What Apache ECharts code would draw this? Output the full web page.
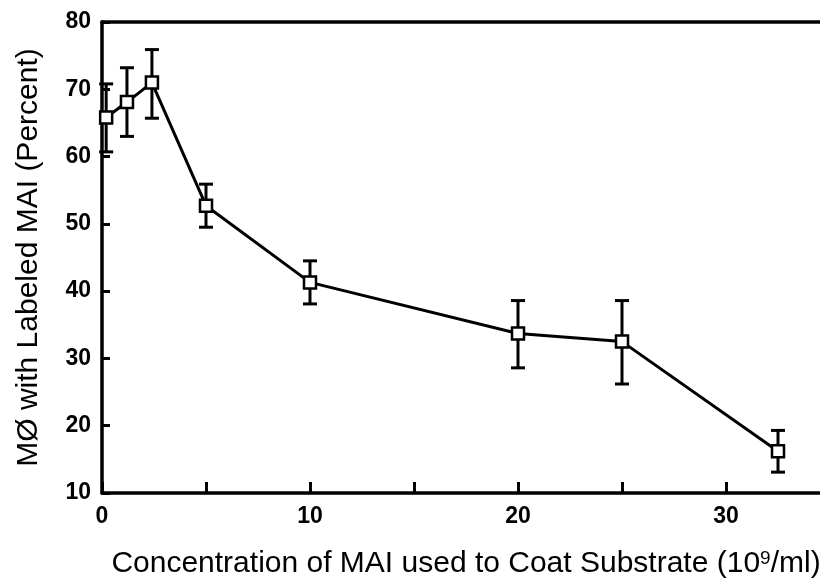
<!DOCTYPE html>
<html>
<head>
<meta charset="utf-8">
<script src="https://cdn.jsdelivr.net/npm/echarts@6/dist/echarts.min.js"></script>
<style>html,body{margin:0;padding:0;background:#fff}#c{width:820px;height:580px}</style>
</head>
<body>
<div id="c"></div>
<script>
// Data
const concentration = [0.2, 1.2, 2.4, 5, 10, 20, 25, 32.5];
const percentLabeled = [65.8, 68.1, 71.0, 52.7, 41.3, 33.7, 32.5, 16.2];
const errorHigh = [70.8, 73.2, 75.9, 55.9, 44.5, 38.6, 38.6, 19.3];
const errorLow = [60.7, 63.0, 65.7, 49.5, 38.1, 28.6, 26.2, 13.1];
const xTickLabels = ['0', '10', '20', '30'];
const yTickLabels = ['10', '20', '30', '40', '50', '60', '70', '80'];

const FONT = '"Liberation Sans", Arial, Helvetica, sans-serif';
const lineData = concentration.map((x, i) => [x, percentLabeled[i]]);
const errData = concentration.map((x, i) => [x, errorLow[i], errorHigh[i]]);

const chart = echarts.init(document.getElementById('c'), null, {renderer: 'canvas'});
chart.setOption({
  animation: false,
  backgroundColor: '#fff',
  grid: {left: 102, right: -10, top: 22, bottom: 87, containLabel: false, outerBoundsMode: 'none'},
  xAxis: [{
    type: 'value', min: 0, max: 35, interval: 5,
    axisLine: {show: true, onZero: false, lineStyle: {color: '#000', width: 3.5}},
    axisTick: {show: true, inside: true, length: 11, lineStyle: {color: '#000', width: 3}},
    axisLabel: {
      margin: 12, color: '#000', fontSize: 23, fontWeight: 'bold', fontFamily: FONT,
      formatter: v => xTickLabels.indexOf(String(v)) >= 0 ? String(v) : ''
    },
    splitLine: {show: false},
    name: 'Concentration of MAI used to Coat Substrate (10{sup|9}/ml)',
    nameLocation: 'middle', nameGap: 56,
    nameTextStyle: {color: '#000', fontSize: 30, fontFamily: FONT,
      rich: {sup: {fontSize: 19, verticalAlign: 'top', padding: [0, 0, 10, 0], color: '#000', fontFamily: FONT}}}
  }, {
    type: 'value', min: 0, max: 35, position: 'top',
    axisLine: {show: true, onZero: false, lineStyle: {color: '#000', width: 3.5}},
    axisTick: {show: false}, axisLabel: {show: false}, splitLine: {show: false}
  }],
  yAxis: {
    type: 'value', min: 10, max: 80, interval: 10,
    axisLine: {show: true, onZero: false, lineStyle: {color: '#000', width: 3.5}},
    axisTick: {show: true, inside: true, length: 8, lineStyle: {color: '#000', width: 3}},
    axisLabel: {
      margin: 11, color: '#000', fontSize: 23, fontWeight: 'bold', fontFamily: FONT,
      formatter: v => yTickLabels.indexOf(String(v)) >= 0 ? String(v) : ''
    },
    splitLine: {show: false},
    name: 'MØ with Labeled MAI (Percent)',
    nameLocation: 'middle', nameGap: 58,
    nameTextStyle: {color: '#000', fontSize: 30, fontFamily: FONT}
  },
  series: [{
    type: 'custom',
    data: errData,
    z: 3,
    renderItem: function (params, api) {
      const x = api.value(0);
      const lo = api.coord([x, api.value(1)]);
      const hi = api.coord([x, api.value(2)]);
      const w = 7;
      const st = {stroke: '#000', lineWidth: 3, fill: null};
      return {
        type: 'group',
        children: [
          {type: 'line', shape: {x1: lo[0], y1: lo[1], x2: hi[0], y2: hi[1]}, style: st},
          {type: 'line', shape: {x1: lo[0] - w, y1: lo[1], x2: lo[0] + w, y2: lo[1]}, style: st},
          {type: 'line', shape: {x1: hi[0] - w, y1: hi[1], x2: hi[0] + w, y2: hi[1]}, style: st}
        ]
      };
    }
  }, {
    type: 'line',
    data: lineData,
    z: 5,
    symbol: 'rect', symbolSize: 12,
    lineStyle: {color: '#000', width: 3},
    itemStyle: {color: '#fff', borderColor: '#000', borderWidth: 2.5}
  }]
});
</script>
</body>
</html>
